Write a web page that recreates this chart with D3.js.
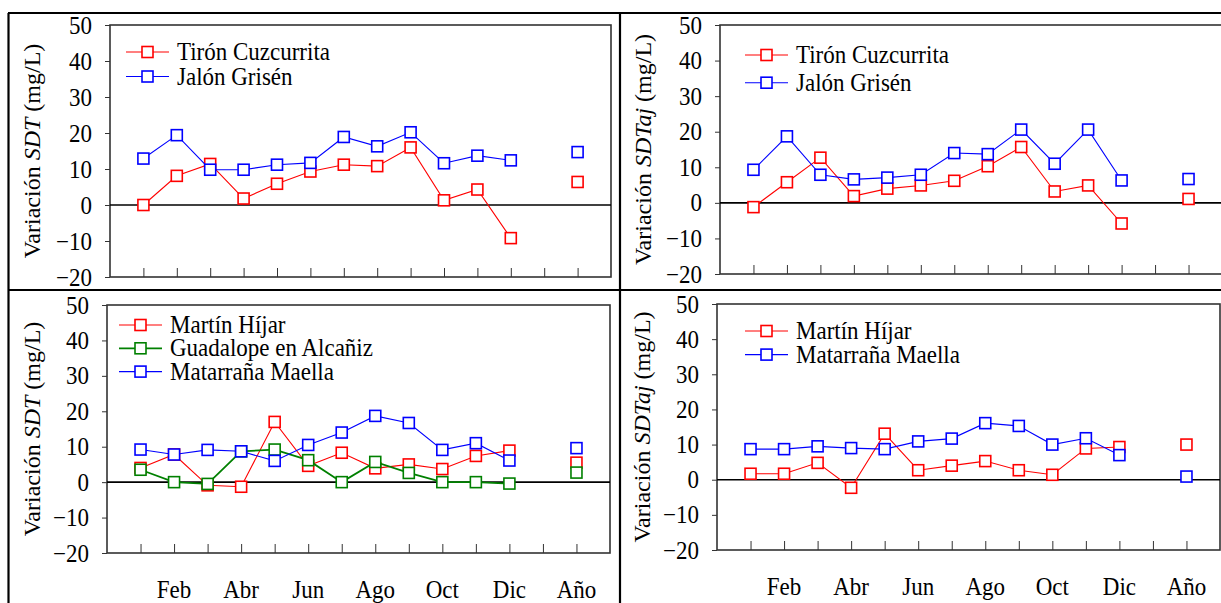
<!DOCTYPE html>
<html>
<head>
<meta charset="utf-8">
<script src="https://cdn.jsdelivr.net/npm/d3@7"></script>
<style>
  body { margin: 0; background: #fff; }
  svg { display: block; }
  text { font-family: "Liberation Serif", "Times New Roman", serif; fill: #000; }
</style>
</head>
<body>
<svg width="1221" height="603"></svg>
<script>
// categories: 12 months, one empty slot, annual value
var tickLabels = ["", "Feb", "", "Abr", "", "Jun", "", "Ago", "", "Oct", "", "Dic", "", "Año"];
var yTicks = [-20, -10, 0, 10, 20, 30, 40, 50];

// SDT, top left
var tironSDT  = [0, 8.1, 11.4, 1.8, 5.9, 9.3, 11.2, 10.8, 16.0, 1.3, 4.3, -9.2];
var tironSDTAnual = 6.4;
var jalonSDT  = [12.9, 19.4, 9.8, 9.8, 11.2, 11.7, 18.9, 16.3, 20.2, 11.6, 13.7, 12.4];
var jalonSDTAnual = 14.7;

// SDTaj, top right
var tironSDTaj = [-1.2, 5.8, 12.7, 1.9, 4.0, 4.9, 6.2, 10.3, 15.7, 3.2, 4.9, -5.8];
var tironSDTajAnual = 1.1;
var jalonSDTaj = [9.3, 18.7, 7.9, 6.6, 7.1, 7.9, 14.0, 13.7, 20.6, 11.0, 20.6, 6.3];
var jalonSDTajAnual = 6.7;

// SDT, bottom left
var martinSDT = [4.0, 7.8, -0.9, -1.3, 17.0, 4.6, 8.3, 3.9, 5.0, 3.7, 7.4, 8.9];
var martinSDTAnual = 5.5;
var guadaSDT  = [3.5, 0, -0.5, 8.7, 9.2, 6.2, 0, 5.7, 2.6, 0, 0, -0.4];
var guadaSDTAnual = 2.7;
var matarSDT  = [9.2, 7.8, 9.1, 8.7, 6.0, 10.5, 14.0, 18.7, 16.7, 9.1, 11.0, 6.1];
var matarSDTAnual = 9.6;

// SDTaj, bottom right
var martinSDTaj = [1.7, 1.7, 4.8, -2.3, 13.1, 2.7, 4.0, 5.3, 2.7, 1.4, 8.9, 9.3];
var martinSDTajAnual = 10.0;
var matarSDTaj  = [8.7, 8.7, 9.5, 9.0, 8.7, 10.9, 11.7, 16.1, 15.3, 10.0, 11.8, 7.0];
var matarSDTajAnual = 0.9;

var red = "#ff0000", blue = "#0000ff", green = "#008000";

var panels = [
  { x0: 110, x1: 611, y0: 25, y1: 277, aj: false, titleX: 40,
    legX: 126, legY: 52, legDy: 24.5, labels: false,
    series: [
      { name: "Tirón Cuzcurrita", color: red, values: tironSDT, anual: tironSDTAnual },
      { name: "Jalón Grisén", color: blue, values: jalonSDT, anual: jalonSDTAnual }
    ] },
  { x0: 720, x1: 1222, y0: 25, y1: 274, aj: true, titleX: 651,
    legX: 745, legY: 55, legDy: 27.7, labels: false,
    series: [
      { name: "Tirón Cuzcurrita", color: red, values: tironSDTaj, anual: tironSDTajAnual },
      { name: "Jalón Grisén", color: blue, values: jalonSDTaj, anual: jalonSDTajAnual }
    ] },
  { x0: 107, x1: 610, y0: 305, y1: 553, aj: false, titleX: 40,
    legX: 119, legY: 325, legDy: 23.3, labels: true, labelY: 598,
    series: [
      { name: "Martín Híjar", color: red, values: martinSDT, anual: martinSDTAnual },
      { name: "Guadalope en Alcañiz", color: green, values: guadaSDT, anual: guadaSDTAnual, width: 1.8 },
      { name: "Matarraña Maella", color: blue, values: matarSDT, anual: matarSDTAnual }
    ] },
  { x0: 717, x1: 1220, y0: 304, y1: 550, aj: true, titleX: 650,
    legX: 745, legY: 331, legDy: 23.6, labels: true, labelY: 595,
    series: [
      { name: "Martín Híjar", color: red, values: martinSDTaj, anual: martinSDTajAnual },
      { name: "Matarraña Maella", color: blue, values: matarSDTaj, anual: matarSDTajAnual }
    ] }
];

var svg = d3.select("svg");
var fs = 23, ms = 11, tall = "scale(1,1.1)";

// frame lines between panels
var frame = [[8, 13, 1221, 13], [8.5, 13, 8.5, 603], [620, 13, 620, 603], [8, 290, 1221, 290]];
svg.selectAll(".frame")
    .data(frame)
  .enter().append("line")
    .attr("class", "frame")
    .attr("x1", function(d) { return d[0]; })
    .attr("y1", function(d) { return d[1]; })
    .attr("x2", function(d) { return d[2]; })
    .attr("y2", function(d) { return d[3]; })
    .attr("stroke", "#000")
    .attr("stroke-width", 2.2);

panels.forEach(drawPanel);

function drawPanel(p) {
  var x = d3.scaleLinear().domain([0, 15]).range([p.x0, p.x1]),
      y = d3.scaleLinear().domain([-20, 50]).range([p.y1, p.y0]);
  var g = svg.append("g");

  // plot box
  g.append("rect")
      .attr("x", p.x0).attr("y", p.y0)
      .attr("width", p.x1 - p.x0).attr("height", p.y1 - p.y0)
      .attr("fill", "none").attr("stroke", "#333").attr("stroke-width", 1.6);

  // y axis
  var yAxis = g.append("g")
      .attr("transform", "translate(" + p.x0 + ",0)")
      .call(d3.axisLeft(y).tickValues(yTicks).tickSize(5).tickPadding(13));
  yAxis.select(".domain").remove();
  yAxis.selectAll("line").attr("stroke", "#333");
  yAxis.selectAll("text")
      .attr("transform", tall)
      .style("font-family", "'Liberation Serif', 'Times New Roman', serif")
      .style("font-size", fs + "px");

  // x ticks, pointing up into the plot
  var xAxis = g.append("g")
      .attr("transform", "translate(0," + p.y1 + ")")
      .call(d3.axisTop(x).tickValues(d3.range(1, 15)).tickSize(9).tickFormat(""));
  xAxis.select(".domain").remove();
  xAxis.selectAll("line").attr("stroke", "#333");

  if (p.labels) {
    g.selectAll(".xlabel")
        .data(tickLabels)
      .enter().append("text")
        .attr("transform", function(d, i) { return "translate(" + x(i + 1) + "," + p.labelY + ")" + tall; })
        .attr("text-anchor", "middle")
        .style("font-size", fs + "px")
        .text(function(d) { return d; });
  }

  // zero line
  g.append("line")
      .attr("x1", p.x0).attr("x2", p.x1)
      .attr("y1", y(0)).attr("y2", y(0))
      .attr("stroke", "#000").attr("stroke-width", 1.6);

  // y title
  var t = g.append("text")
      .attr("transform", "translate(" + p.titleX + "," + (p.y0 + p.y1) / 2 + ")rotate(-90)")
      .attr("text-anchor", "middle")
      .style("font-size", "24px");
  t.append("tspan").text("Variación ");
  t.append("tspan").style("font-style", "italic").text(p.aj ? "SDTaj" : "SDT");
  t.append("tspan").text(p.aj ? "  (mg/L)" : " (mg/L)");

  var line = d3.line()
      .x(function(d, i) { return x(i + 1); })
      .y(function(d) { return y(d); });

  p.series.forEach(function(s) {
    g.append("path")
        .attr("d", line(s.values))
        .attr("fill", "none")
        .attr("stroke", s.color)
        .attr("stroke-width", s.width || 1.1);

    var pts = s.values.map(function(v, i) { return { i: i + 1, v: v }; });
    pts.push({ i: 14, v: s.anual });
    g.selectAll(null)
        .data(pts)
      .enter().append("rect")
        .attr("x", function(d) { return x(d.i) - ms / 2; })
        .attr("y", function(d) { return y(d.v) - ms / 2; })
        .attr("width", ms).attr("height", ms)
        .attr("fill", "#fff")
        .attr("stroke", s.color)
        .attr("stroke-width", 1.6);
  });

  // legend
  var leg = g.selectAll(".leg")
      .data(p.series)
    .enter().append("g")
      .attr("transform", function(d, i) { return "translate(" + p.legX + "," + (p.legY + i * p.legDy) + ")"; });
  leg.append("line")
      .attr("x1", 0).attr("x2", 43)
      .attr("stroke", function(d) { return d.color; })
      .attr("stroke-width", function(d) { return d.width || 1.1; });
  leg.append("rect")
      .attr("x", 21.5 - ms / 2).attr("y", -ms / 2)
      .attr("width", ms).attr("height", ms)
      .attr("fill", "#fff")
      .attr("stroke", function(d) { return d.color; })
      .attr("stroke-width", 1.6);
  leg.append("text")
      .attr("transform", "translate(51,8)" + tall)
      .style("font-size", fs + "px")
      .text(function(d) { return d.name; });
}
</script>
</body>
</html>
